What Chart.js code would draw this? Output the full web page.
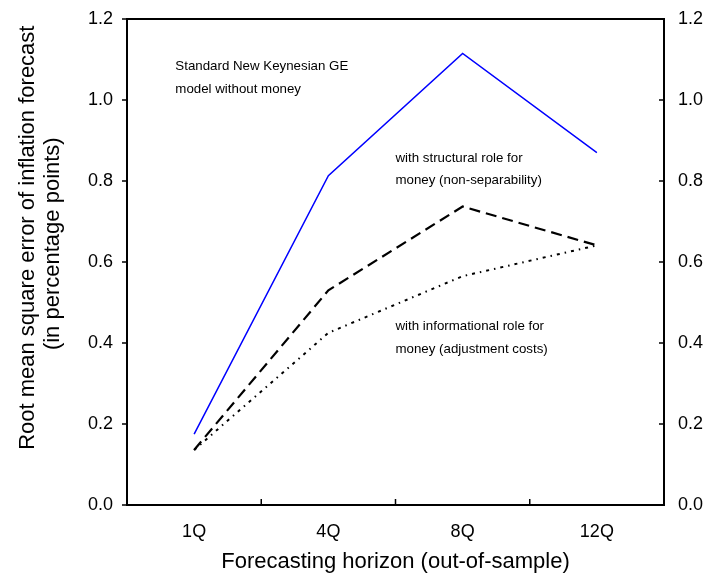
<!DOCTYPE html>
<html>
<head>
<meta charset="utf-8">
<script src="https://cdn.jsdelivr.net/npm/chart.js@4/dist/chart.umd.min.js"></script>
<style>
  html, body { margin: 0; padding: 0; background: #fff; }
  #wrap { width: 714px; height: 575px; }
</style>
</head>
<body>
<div id="wrap"><canvas id="chart" width="714" height="575"></canvas></div>
<script>
// data
const horizons = ["1Q", "4Q", "8Q", "12Q"];
const noMoney = [0.175, 0.813, 1.115, 0.870];
const structural = [0.136, 0.530, 0.737, 0.641];
const informational = [0.136, 0.425, 0.565, 0.641];
const yTicks = [0.0, 0.2, 0.4, 0.6, 0.8, 1.0, 1.2];
const yTitle = ["Root mean square error of inflation forecast", "(in percentage points)"];

const FONT = "'Liberation Sans', Arial, sans-serif";

// annotation text, anchored in data space (x = category index, y = value)
const notes = [
  { x: -0.14, y: 1.082, lines: ["Standard New Keynesian GE", "model without money"] },
  { x: 1.5, y: 0.857, lines: ["with structural role for", "money (non-separability)"] },
  { x: 1.5, y: 0.440, lines: ["with informational role for", "money (adjustment costs)"] },
];

const framePlugin = {
  id: "frame",
  afterDraw(chart) {
    const ctx = chart.ctx;
    const a = chart.chartArea;
    const xs = chart.scales.x;
    const ys = chart.scales.y;
    ctx.save();
    ctx.strokeStyle = "#000";
    ctx.lineWidth = 2;
    ctx.strokeRect(a.left, a.top, a.right - a.left, a.bottom - a.top);

    ctx.lineWidth = 1.5;
    ctx.beginPath();
    yTicks.forEach((v) => {
      const py = ys.getPixelForValue(v);
      ctx.moveTo(a.left - 5, py);
      ctx.lineTo(a.left, py);
      ctx.moveTo(a.right - 5, py);
      ctx.lineTo(a.right, py);
    });
    for (let i = 1; i < horizons.length; i++) {
      const px = xs.getPixelForValue(i - 0.5);
      ctx.moveTo(px, a.bottom);
      ctx.lineTo(px, a.bottom - 6);
    }
    ctx.stroke();

    ctx.fillStyle = "#000";
    ctx.font = "13.3px " + FONT;
    ctx.textAlign = "left";
    ctx.textBaseline = "middle";
    notes.forEach((n) => {
      const px = xs.getPixelForValue(n.x);
      const py = ys.getPixelForValue(n.y);
      n.lines.forEach((t, i) => ctx.fillText(t, px, py + i * 22.5));
    });

    // y axis title, two rotated lines sitting a bit above the plot centre
    ctx.font = "22px " + FONT;
    ctx.textAlign = "center";
    const cy = ys.getPixelForValue(0.66);
    ctx.translate(28, cy);
    ctx.rotate(-Math.PI / 2);
    ctx.fillText(yTitle[0], 0, 0);
    ctx.fillText(yTitle[1], -6, 25);
    ctx.restore();
  },
};

const tickFont = { family: FONT, size: 18 };

function fitY(width) {
  return (s) => {
    s.width = width;
    s.paddingTop = 0;
    s.paddingBottom = 0;
  };
}

new Chart(document.getElementById("chart"), {
  type: "line",
  data: {
    labels: horizons,
    datasets: [
      {
        data: noMoney,
        borderColor: "#0000ff",
        borderWidth: 1.5,
        pointRadius: 0,
        tension: 0,
      },
      {
        data: structural,
        borderColor: "#000",
        borderWidth: 2.2,
        borderDash: [11, 6],
        pointRadius: 0,
        tension: 0,
      },
      {
        data: informational,
        borderColor: "#000",
        borderWidth: 2,
        borderDash: [3, 5, 1.5, 5],
        pointRadius: 0,
        tension: 0,
      },
    ],
  },
  options: {
    responsive: false,
    animation: false,
    layout: { padding: { top: 19, left: 0, right: 0, bottom: 0 } },
    plugins: {
      legend: { display: false },
      tooltip: { enabled: false },
    },
    scales: {
      x: {
        type: "category",
        offset: true,
        grid: { display: false, drawTicks: false },
        border: { display: false },
        ticks: { color: "#000", font: tickFont, padding: 16, maxRotation: 0 },
        title: {
          display: true,
          text: "Forecasting horizon (out-of-sample)",
          color: "#000",
          font: { family: FONT, size: 22 },
          padding: { top: 0, bottom: 0 },
        },
        afterFit: (s) => {
          s.height = 70;
          s.paddingLeft = 0;
          s.paddingRight = 0;
        },
      },
      y: {
        position: "left",
        min: 0,
        max: 1.2,
        grid: { display: false, drawTicks: false },
        border: { display: false },
        ticks: {
          stepSize: 0.2,
          color: "#000",
          font: tickFont,
          padding: 14,
          callback: (v) => Number(v).toFixed(1),
        },
        afterFit: fitY(127),
      },
      y2: {
        position: "right",
        min: 0,
        max: 1.2,
        grid: { display: false, drawTicks: false },
        border: { display: false },
        ticks: {
          stepSize: 0.2,
          color: "#000",
          font: tickFont,
          padding: 14,
          callback: (v) => Number(v).toFixed(1),
        },
        afterFit: fitY(50),
      },
    },
  },
  plugins: [framePlugin],
});
</script>
</body>
</html>
